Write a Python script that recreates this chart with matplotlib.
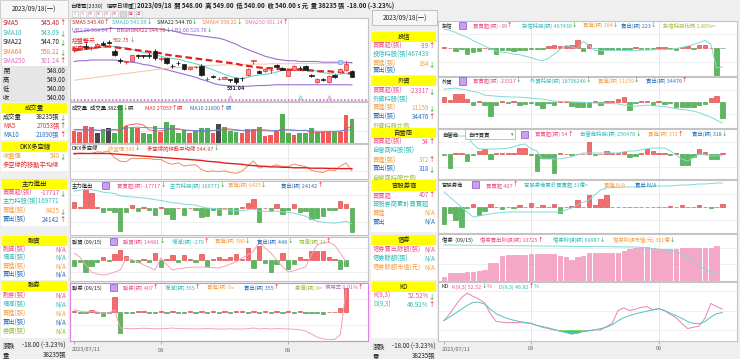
import numpy as np
import matplotlib.pyplot as plt
from matplotlib.patches import Rectangle

plt.rcParams['font.family'] = ['Noto Sans CJK TC', 'DejaVu Sans']
nan = np.nan

# ---- data (49 trading days 2023/07/11 .. 2023/09/18) ----
tick_idx = [0, 15, 37]
tick_lbl = ['2023/07/11', '08', '09']

opens = [576,578,582,579,581,585,587,575,562.5,560, 562,570,569,570,575,564,565,555.5,559,557.5,
         551,553,555,537,541,537,538,537,539,539.5, 543,562,548,548,549,556,552,542,550,552.5,
         555.5,543,533,538,533,543,547,549,548]
highs = [580,583,585,582,586,588,590,577,565,561, 570,571,569.5,572,577,567,566,558,562,558,
         554,555,557,540,543,540,541,537.5,540,540, 552,563.5,549,552,552,558,553,551,556,555,
         556,544,539,539,543,544,552,562,549]
lows = [573,576,578,576,579,582,584,568,559,558, 561,566,565,566,563,562,557,552,556,550,
        550,552,542,535,539,536,537,534,531,535, 542,557,545,547,546,553,549,541,549,550,
        549,540,532,535,532,539,546,548,540]
closes = [578,581,580,580,584,583,586,570,562,561, 569.5,568,568.5,568,566,566,559,555,558.5,551,
          553,554,543,538,540,538,540,536,534,539, 551,563,546,551,550,554,550,550,555.5,552,
          550,541,538,536,542,540,551,558,540]
bb_upper = [600,601,602,603,603,604,605,605,605,605, 605,605,605,605,605,604,603,602,600,598,
            597,596,595,594,593,592,590,587,584,580, 577,574,571,568,566,564,563,562,562,561,
            561,561,561,560,560,560,560,560,559.64]
bb_mid = [576,577,578,579,580,581,581,580,579,578, 577,576,575,574,573,572,570,569,568,567,
          566,565,564,563,562,561,560,559,558,556, 555,554,553,552,552,551,551,550,550,550,
          549,549,548,548,548,547,547,546,544.7]
bb_lower = [561,562,562,563,563,563,563,563,562,561, 560,559,557,556,554,552,550,548,546,544,
            542,540,537,535,532,530,529,528.5,528,528, 528,528.5,529,529,529.5,530,530,530,530,530,
            530,530,530,530,530,530,530,530,529.76]
sma10 = [574,576,577,578,579,580,581,581,580,579, 577,575,573,572,570,568,566,565,564,562,
         560,558,556,553,550,547,544,541,539,538, 540,542,543,544,545,547,549,550,550,551,
         551,550,548,546,545,544,544,545,543.09]
sma64 = [536,537,538,539,540,541,542,543,544,545, 546,547,548,549,550,551,552,552.5,553,553.5,
         554,554.5,555,555.5,556,556,556.5,556.5,557,557, 557,557.5,557.5,557.5,558,558,558,558,558,558.5,
         558.5,558.5,558.5,558.5,558.5,558.5,558.5,558.3,558.22]
sig_idx = [27, 39, 44]
sig_col = ['#f090b8', '#60c8e0', '#f090b8']

volume = [19300,17300,27200,25200,15300,22500,24700,16800,61300,27800, 23600,24700,15700,14200,27800,18400,34100,28800,15700,20900,
          15700,19300,24700,24700,16800,29900,26300,19300,18400,15700, 22500,22500,26300,11500,12100,19300,47200,15700,12100,15700,
          15700,23600,17300,17300,17300,18400,18400,44500,38235]
vol_col = ['r','r','r','r','k','g','k','g','g','r', 'g','r','g','g','g','r','g','g','g','g',
           'r','g','g','g','r','k','g','g','g','r', 'r','r','g','r','r','r','g','g','r','g',
           'g','g','g','r','r','g','r','r','g']
vol_ma5 = [22000,21500,21000,21500,20800,19500,21000,21500,20000,28000, 30000,31000,29000,21000,19700,19500,21000,23000,23000,21000,
           20000,20000,18500,19000,19800,21000,23000,22500,21500,20000, 18700,19700,21000,20000,19300,19300,23000,21000,21000,20000,
           20800,16500,16500,17300,18000,18000,18000,23000,27053]
vol_ma10 = [21000,21000,20800,20800,20500,20500,20500,21000,22000,24000, 25000,25500,25000,24500,24000,23500,23500,22500,22000,21000,
            20500,20000,20000,20500,20500,20500,21500,21000,20500,20500, 20500,21000,21500,21000,20500,20000,20500,21000,20500,20000,
            20000,19500,19000,19000,19000,19000,19500,20500,21890]
dkx_ma = [580,580,580,580,580,580,580,579,578,577, 576,575,574,573,572,571,570,569,568,567,
          566,565,564,562,561,560,558,557,556,555, 553,552,551,550,549,549,548,548,547,547,
          547,546,546,546,545.5,545.5,545,545,544.97]
zl_net = [5100,800,13700,11400,1100,-3000,-800,-3000,-16500,-2500, 2500,-2100,1300,-800,-4600,800,-3800,-7600,500,-4600,
          400,-800,-6300,-5500,-1500,-5100,400,-3800,-3800,1300, 3800,7100,-10100,500,-800,3000,-4300,-800,3000,-2500,
          -2100,-8100,-7100,-5500,-1500,-1500,5500,3000,-17717]
zl_hold = [192200,192800,193500,193300,192500,191500,191000,190600,189000,188500, 188200,187800,187500,187000,186300,185800,185000,184200,184000,183200,
           183000,182600,181400,180600,180300,179700,179600,179100,178700,178800, 179300,179800,178500,178400,178200,178500,177800,177600,177000,176000,
           175000,173000,171500,170800,170500,170200,170800,171500,169771]
rz_chg = [-285,-100,-585,-285,-100,165,-50,300,500,185, -115,-115,35,-85,335,-365,35,250,-115,250,
          35,-115,300,-315,35,135,35,135,285,35, 585,-415,715,-150,-615,-200,350,-450,-200,135,
          35,465,465,465,135,35,-450,-279, nan]
rz_bal = [14751,14631,14400,14181,14120,14091,14120,14180,14241,14601, 14550,14481,14400,14320,14241,14601,14400,14241,14280,14300,
          14320,14330,14331,14320,14310,14301,14350,14420,14481,14600, 14691,14800,15081,14901,14751,14550,14350,14181,14220,14280,
          14331,14700,14991,15060,15081,14991,14750,14481, nan]
rq_chg = [22,-8,-10,26,-15,-60,-10,225,-310,-15, -8,8,8,-8,-8,8,-8,15,-8,-8,
          8,-8,8,-8,8,-8,8,-8,8,8, -8,20,-22,10,-10,10,-8,8,-8,8,
          -8,-15,-15,-35,5,0,55,355, nan]
rq_bal = [250,240,232,240,232,224,224,250,104,100, 98,100,102,100,98,98,100,104,100,98,
          98,96,98,100,98,96,96,98,96,96, 98,104,96,100,96,100,98,96,94,90,
          80,56,32,16,12,12,52,407, nan]
tx_net = [70,50,-330,-100,-570,-430,-270,50,-50,-570, -200,-200,-250,-200,-200,-100,-50,-50,200,270,
          200,200,270,830,-270,400,-30,-600,-130,-170, -170,-170,-130,130,-100,-100,-100,100,100,-100,
          -170,100,200,-100,330,330,50,-2670,-39]
tx_hold = [472989,472839,472500,472100,471800,471300,470900,470500,470100,469800, 469600,469500,469300,469240,469000,468800,468500,468340,468700,469300,
           470000,470590,470400,470100,471190,470600,469840,469840,469840,469840, 469840,469840,469840,469840,469900,469900,469950,469990,470000,469990,
           470100,470300,470500,470740,471000,471340,470740,467289,467439]
wz_net = [6850,3350,11660,11660,4370,-3930,730,-4810,-20840,-3930, 1890,-1890,1020,-3930,-3350,-730,-4810,-8740,-1460,-4810,
          730,730,-6270,-7720,-7720,-7720,730,-4810,730,1460, 3930,7720,-11220,-730,730,1020,-4810,1020,-2910,-1890,
          -7720,-7720,-7720,-7720,-3930,-2190,5830,9180,-23317]
wz_hold = [18774000,18775000,18776000,18774000,18772000,18769000,18767000,18762000,18761000,18760000,
           18759000,18758500,18758000,18758000,18757000,18756000,18755000,18754000,18752000,18750000,
           18749500,18749000,18748500,18748000,18747500,18747000,18746000,18746000,18745500,18745000,
           18744500,18742000,18741000,18740000,18741000,18742000,18741000,18740000,18739000,18737000,
           18735000,18733000,18732000,18730000,18727000,18722000,18718000,18712000,18706246]
zy_net = [-40,-560,52,52,-292,-40,108,188,-212,40, 40,40,40,228,228,-20,-692,-160,-160,-760,
          40,20,-40,20,20,480,-40,20,108,40, 40,80,-132,-60,40,188,120,40,40,-40,
          28,-428,-428,-132,188,80,-200,-200,54]
zy_hold = [258478,258478,258478,258478,258478,257678,257178,257178,257178,257178, 257200,257278,257400,257600,257678,257200,256978,256178,256178,256178,
           256200,256278,256400,256600,256778,256778,256778,256778,256778,256778, 256778,256900,256978,256978,257100,257200,257278,257278,257278,256978,
           256600,256178,255978,256300,256678,256600,256500,256478,256478]
gg_net = [-2550,-900,-1905,-3045,-150,405,-1155,-555,450,75, -345,75,-150,255,75,600,75,345,75,405,
          -900,75,150,1050,75,1800,300,1155,1845,75, 75,75,75,75,75,75,75,75,75,105,
          75,255,75,75,255,75,-105,75,407]
gg_cum = [22,17,12,7,2,-3,-2,-1,0,1, 1.5,2,2,2,2,2,2,2,2,2, 2,4,6,9,12,14,19,24,26,26.5,
          26.5,27,27,27,27,27.5,27.5,28,28,28, 28.5,29,29,29.5,30,30,30.5,31,31]
jq_sell = [845,2097,2097,2097,2410,2598,2911,3130,5227,5415, 7512,7825,7825,7825,7825,8138,8138,8138,8138,8044,
           7512,7105,6260,7105,7512,8357,8357,8357,8357,8357, 8545,9171,9609,10110,10235,10235,9922,9609,9609,9703,
           9703,9922,9922,9922,9922,9922,9922,10725, nan]
jq_bal = [92400,92400,92300,92300,92200,92200,92100,92100,92000,92000, 91900,91900,91800,91800,91700,91700,91600,91600,91500,91500,
          91400,91400,91300,91300,91200,91200,91100,91100,91000,91000, 90900,90900,90800,90800,90500,90000,89500,89000,88400,88000,
          87000,85000,82800,80000,76000,73000,71000,69987, nan]
k_vals = [34.3,45,58,70,76.9,72,68,62,45,33, 32,31,31.5,31,31,30,27,24,22,20,
          18.5,16,13.7,15,18,19,20,20,25,30, 50,54,50,52,55,56,51,53,50,44,
          39,30,22,24,26,38,61,56,52.52]
d_vals = [34.3,40,46,52,58,62.7,63,60,52,45, 41,37.4,35,33,31.5,30,27,25,23,20.5,
          18,16,15.5,16,17.5,18.5,20,22,24,28, 34,39,42,45,47,49,51,53,50,46,
          42,38,33,30,29.5,33,40,45,46.92]

# ---- figure helpers ----
W, H = 740, 359
fig = plt.figure(figsize=(W / 100, H / 100), dpi=100, facecolor='#efefef')
R = fig.canvas.get_renderer()

UP, DN, EQ = '#e00000', '#009a00', '#909090'
ARW = {'↑': UP, '↓': DN, '=': EQ}
DARK = '#202020'
PINK, CYAN, ORNG, BLUE, OLIVE, PURP = '#f0508a', '#30b8b8', '#f5a040', '#2a6fc0', '#98bc38', '#9060c8'
RED_F, RED_E, GRN_F, GRN_E = '#f46c6c', '#d83434', '#5cb85c', '#3a963a'
HS = 3.9      # chart header font size
IS = 4.5      # info column font size
idx = np.arange(len(closes))
LX = (-0.69, 50.78)
RX = (-1.03, 50.52)


def fx(x):
    return x / W


def fy(y):
    return 1 - y / H


def box(x0, y0, x1, y1, fc, ec='none', z=0.5, lw=0.6):
    fig.add_artist(Rectangle((fx(x0), fy(y1)), (x1 - x0) / W, (y1 - y0) / H,
                             transform=fig.transFigure, facecolor=fc, edgecolor=ec, lw=lw, zorder=z))


def txt(x, y, s, c=DARK, size=HS, **kw):
    kw.setdefault('va', 'center')
    return fig.text(fx(x), fy(y), s, color=c, fontsize=size, **kw)


def segs(x, y, parts, size=HS, **kw):
    for s, c in parts:
        t = txt(x, y, s, c, size, **kw)
        x += t.get_window_extent(renderer=R).width
    return x


def hdr(x, y, label, c, arrow):
    segs(x, y, [(label, c), (arrow, ARW[arrow])])


def row(xl, xr, y, label, c, value='', arrow=None, size=IS, z=3):
    txt(xl, y, label, c, size, zorder=z)
    if arrow:
        t = txt(xr, y, arrow, ARW[arrow], size, ha='right', zorder=z)
        xr -= t.get_window_extent(renderer=R).width
    if value:
        txt(xr, y, value, c, size, ha='right', zorder=z)


def band(x0, x1, y0, y1, label):
    box(x0, y0, x1, y1, '#ffff00', z=2)
    txt((x0 + x1) / 2, (y0 + y1) / 2, label, DARK, 4.6, ha='center', zorder=4)


def icon(x, y):
    box(x, y - 3.5, x + 7, y + 3.5, '#c9a0f0', ec='#8a50c8', z=4, lw=0.5)


def panel(x0, y0, x1, y1, xl, ylim, edge='#c4c4c4', hl=()):
    ax = fig.add_axes([fx(x0), fy(y1), (x1 - x0) / W, (y1 - y0) / H])
    ax.set_xlim(*xl)
    ax.set_ylim(*ylim)
    ax.set_xticks([])
    ax.set_yticks([])
    for s in ax.spines.values():
        s.set_color(edge)
        s.set_linewidth(0.8)
    for xv in tick_idx[1:]:
        ax.axvline(xv, color='#e4e4e4', lw=0.6, zorder=0)
    for yv in hl:
        ax.axhline(yv, color='#ececec', lw=0.6, zorder=0)
    return ax


def overlay(ax, ylim):
    t = ax.twinx()
    t.set_ylim(*ylim)
    t.axis('off')
    return t


def netbars(ax, vals):
    v = np.array(vals, float)
    m = np.isfinite(v)
    v, x = v[m], idx[m]
    up = v >= 0
    ax.bar(x, v, width=0.74, color=np.where(up, RED_F, GRN_F),
           edgecolor=np.where(up, RED_E, GRN_E), lw=0.4, zorder=2)


def line(ax, vals, c, lw=0.7, **kw):
    ax.plot(idx, vals, color=c, lw=lw, **kw)


def xlabels(ax, x_first, step, y):
    ax.set_xticks(tick_idx)
    ax.set_xticklabels([])
    ax.tick_params(axis='x', length=2.5, color='#a0a0a0', width=0.6)
    for i, lab in zip(tick_idx, tick_lbl):
        xp = x_first + i * step
        txt(xp - 2 if i == 0 else xp, y, lab, '#606060', 4.0, ha='left' if i == 0 else 'center')


# ---- top header ----
box(0, 0, 68, 18, '#f7f7f7', ec='#c8c8c8')
txt(34, 9, '2023/09/18(一)', DARK, 4.6, ha='center')
txt(70, 5.5, '台積電(2330)', DARK, 4.0)
txt(107, 5.5, '還原日線圖', DARK, 4.0)
box(131, 3, 135, 8, 'white', ec='#909090')
txt(137, 5.5, '2023/09/18  開 548.00  高 549.00  低 540.00  收 540.00 s 元  量 38235 張  -18.00 (-3.23%)',
    DARK, 4.5, fontweight='bold')
for k, b in enumerate(['1', '5', '10', '15', '30', '60', '', '週', '月']):
    box(72 + 8 * k, 11, 78 + 8 * k, 17, '#ffffff' if b else '#d8d8d8', ec='#c0c0c0', lw=0.4)
    txt(75 + 8 * k, 14, b, '#e04060', 2.6, ha='center')

# ---- left info column ----
box(1, 18, 68, 66, 'white', ec='#d6d6d6')
for y, lab, c, v, a in [(23, 'SMA5', '#c02020', '545.40', '↑'), (33, 'SMA10', CYAN, '543.09', '↓'),
                        (42, 'SMA22', DARK, '544.70', '↓'), (52, 'SMA64', '#f08040', '558.22', '↓'),
                        (61, 'SMA250', '#e070c0', '501.14', '↑')]:
    row(3, 66, y, lab, c, v, a)
box(1, 66, 68, 102, '#e6e6e6')
for y, lab, v in [(71, '開', '548.00'), (80, '高', '549.00'), (89, '低', '540.00'), (98, '收', '540.00')]:
    row(3, 66, y, lab, DARK, v)
band(2, 67, 103, 113, '成交量')
box(1, 113, 68, 140, 'white')
row(3, 66, 117, '成交量', DARK, '38235張', '↓')
row(3, 66, 126, 'MA5', '#e03030', '27053張', '↑')
row(3, 66, 135, 'MA10', BLUE, '21890張', '↑')
band(2, 67, 142, 152, 'DKX多空線')
box(1, 152, 68, 171, 'white')
row(3, 66, 156, '收盤價', ORNG, '540', '↓')
txt(3, 165, '多空線的移動平均線', '#e03030', IS)
band(2, 67, 179, 189, '主力進出')
box(1, 189, 68, 226, 'white')
row(3, 66, 193, '買賣超(張)', PINK, '-17717', '↓')
txt(3, 202, '主力持股(張)169771', CYAN, IS)
row(3, 66, 211, '買進(張)', ORNG, '6425', '↓')
row(3, 66, 220, '賣出(張)', BLUE, '24142', '↑')
band(2, 67, 236, 246, '融資')
box(1, 246, 68, 280, 'white')
for y, lab, c in [(250, '融資(張)', PINK), (258, '增減(張)', CYAN), (267, '買進(張)', ORNG), (275, '賣出(張)', BLUE)]:
    row(3, 66, y, lab, c, 'N/A')
band(2, 67, 281, 291, '融券')
box(1, 291, 68, 338, 'white')
for y, lab, c in [(296, '融券(張)', PINK), (305, '增減(張)', CYAN), (314, '買進(張)', ORNG),
                  (323, '賣出(張)', BLUE), (332, '券償(張)', OLIVE)]:
    row(3, 66, y, lab, c, 'N/A')
row(3, 66, 346, '漲跌', DARK, '-18.00 (-3.23%)')
row(3, 66, 355, '量', DARK, '38235張')

# ---- right info column ----
box(372, 10, 437, 25, '#f6f6f6', ec='#b8b8b8')
txt(404.5, 18, '2023/09/18(一)', DARK, 4.6, ha='center')
band(372, 436, 32, 42, '投信')
box(371, 42, 437, 75, 'white')
row(373, 435, 46, '買賣超(張)', PINK, '-39', '↑')
txt(373, 55, '投信持股(張)467439', CYAN, IS)
row(373, 435, 64, '買進(張)', ORNG, '184', '↓')
row(373, 435, 71, '賣出(張)', BLUE)
band(372, 436, 76, 86, '外資')
box(371, 86, 437, 128, 'white')
row(373, 435, 91, '買賣超(張)', PINK, '-23317', '↓')
row(373, 435, 99.5, '外資持股(張)', CYAN)
row(373, 435, 108, '買進(張)', ORNG, '11159', '↓')
row(373, 435, 117, '賣出(張)', BLUE, '34476', '↑')
row(373, 435, 126, '外資持股比例', OLIVE, z=1)
band(372, 436, 128, 138, '自營商')
box(371, 138, 437, 179, 'white')
row(373, 435, 142, '買賣超(張)', PINK, '54', '↑')
row(373, 435, 151, '自營商持股(張)', CYAN)
row(373, 435, 160.5, '買進(張)', ORNG, '372', '↑')
row(373, 435, 169, '賣出(張)', BLUE, '318', '↓')
row(373, 435, 177.5, '自營商持股比例', OLIVE, z=1)
band(372, 436, 180, 191, '官股券商')
box(371, 191, 437, 232, 'white')
row(373, 435, 195, '買賣超', PINK, '407', '↑')
row(373, 435, 204, '官股券商累計買賣超', CYAN)
row(373, 435, 213, '買進', ORNG, 'N/A')
row(373, 435, 222, '賣出', BLUE, 'N/A')
band(372, 436, 235, 245, '借券')
box(371, 245, 437, 280, 'white')
row(373, 435, 250, '借券賣出餘額(張)', PINK, 'N/A')
row(373, 435, 259, '借券餘額(張)', CYAN, 'N/A')
row(373, 435, 268, '借券餘額市值(元)', ORNG, 'N/A')
band(372, 436, 282, 292, 'KD')
box(371, 292, 437, 338, 'white')
row(373, 435, 296, 'K(9,3)', PINK, '52.52%', '↓')
row(373, 435, 305, 'D(9,3)', CYAN, '46.92%', '↑')
row(373, 435, 347, '漲跌', DARK, '-18.00 (-3.23%)')
row(373, 435, 356, '量', DARK, '38235張')

# ---- candle panel ----
axc = panel(70, 18, 368, 101, LX, (508.3, 619))
line(axc, bb_upper, '#9a70d0', 0.8)
line(axc, bb_lower, '#9a70d0', 0.8)
line(axc, sma64, '#f7c4a4', 0.7)
line(axc, sma10, '#60cccc', 0.7)
line(axc, bb_mid, '#e02020', 1.6, ls=(0, (3, 1.6)))
for i in idx:
    o, h, l, c = opens[i], highs[i], lows[i], closes[i]
    upc = c > o
    fc, ec = ('#ff8a8a', '#e03030') if upc else ('#1c1c1c', '#1c1c1c')
    axc.vlines(i, l, h, color=ec, lw=0.7, zorder=3)
    axc.bar(i, max(abs(c - o), 0.5), bottom=min(o, c), width=0.74, color=fc, edgecolor=ec, lw=0.5, zorder=4)
axc.axhline(510.3, color='#d050d0', lw=1.1, ls=(0, (1, 1.3)))
for i, c in zip(sig_idx, sig_col):
    axc.plot(i, 513.5, '^', ms=2.6, mfc='none', mec=c, mew=0.6)
axc.plot(46, 560.5, 's', ms=3.2, mfc='#a8cff5', mec='#6fa0d8', mew=0.4, zorder=5)
low_i = int(np.argmin(lows))
axc.text(low_i, lows[low_i] - 3, f'{lows[low_i] + 0.04:.2f}', fontsize=4.0, ha='center', va='top',
         color=DARK, fontweight='bold')
hdr(72, 22.5, 'SMA5 545.40', '#c02020', '↑')
hdr(112, 22.5, 'SMA10 543.09', CYAN, '↓')
hdr(157, 22.5, 'SMA22 544.70', DARK, '↓')
hdr(202, 22.5, 'SMA64 558.22', '#f08040', '↓')
hdr(245, 22.5, 'SMA250 501.14', '#e070c0', '↑')
hdr(72, 31, 'UB2.00 559.64', PURP, '↑')
hdr(117, 31, 'BBandMA22 544.70', '#e03030', '↓')
hdr(172, 31, 'LB2.00 529.76', PURP, '↓')
txt(72, 40.5, '控盤警示', '#e03030', 4.3)
hdr(113, 40.5, '582.75', '#d03030', '↓')
txt(72, 49.5, '警示', '#e03030', 4.3)

# ---- volume ----
axv = panel(70, 102, 368, 143, LX, (0, 66000), hl=(20000, 40000))
cmap = {'r': '#f25a5a', 'g': '#52b052', 'k': '#484848'}
axv.bar(idx, volume, width=0.82, color=[cmap[c] for c in vol_col], lw=0)
line(axv, vol_ma5, '#ee5050', 0.6)
line(axv, vol_ma10, '#5a88d8', 0.6)
txt(72, 108, '成交量', DARK)
segs(90, 108, [('成交量 38235', DARK), ('↓', DN), ('張', DARK)])
segs(145, 108, [('MA5 27053', '#e03030'), ('↑', UP), ('張', '#e03030')])
segs(190, 108, [('MA10 21890', BLUE), ('↑', UP), ('張', BLUE)])

# ---- DKX ----
axd = panel(70, 144, 368, 179, LX, (521, 602), hl=(540, 570))
line(axd, closes, '#f28c5a', 0.7)
line(axd, dkx_ma, '#e02020', 1.0)
txt(72, 148.5, 'DKX多空線', DARK)
hdr(108, 148.5, '收盤價 540', ORNG, '↓')
hdr(147, 148.5, '多空線的移動平均線 544.97', '#e03030', '↓')

# ---- 主力進出 ----
axz = panel(70, 181, 368, 235, LX, (-19800, 20500), hl=(-10000, 10000))
netbars(axz, zl_net)
line(overlay(axz, (162071, 199171)), zl_hold, '#80d8d8', 0.7)
txt(72, 185.5, '主力進出', DARK)
icon(102, 185.5)
hdr(117, 185.5, '買賣超(張) -17717', PINK, '↓')
hdr(170, 185.5, '主力持股(張) 169771', CYAN, '↓')
hdr(228, 185.5, '買進(張) 6425', ORNG, '↓')
hdr(281, 185.5, '賣出(張) 24142', BLUE, '↑')

# ---- 融資 ----
axr = panel(70, 237, 368, 281, LX, (-1050, 1150), hl=(-600, 600))
netbars(axr, rz_chg)
line(overlay(axr, (13911, 15231)), rz_bal, '#f5a0c0', 0.7)
txt(72, 241.5, '融資 (09/15)', DARK)
icon(110, 241.5)
hdr(123, 241.5, '融資(張) 14481', PINK, '↓')
hdr(172, 241.5, '增減(張) -279', CYAN, '↑')
hdr(215, 241.5, '買進(張) 580', ORNG, '↓')
hdr(257, 241.5, '賣出(張) 448', BLUE, '↓')
hdr(299, 241.5, '現償(張) 11', OLIVE, '↑')

# ---- 融券 ----
axq = panel(70, 283, 368, 341, LX, (-435, 435), edge='#e080e0', hl=(-200, 200))
netbars(axq, rq_chg)
line(overlay(axq, (0, 464)), rq_bal, '#f5a0c0', 0.7)
txt(72, 287.5, '融券 (09/15)', DARK)
icon(110, 287.5)
hdr(123, 287.5, '融券(張) 407', PINK, '↑')
hdr(165, 287.5, '增減(張) 355', CYAN, '↑')
hdr(207, 287.5, '買進(張) 0', ORNG, '=')
hdr(244, 287.5, '賣出(張) 355', BLUE, '↑')
hdr(295, 287.5, '券償(張) 0', OLIVE, '=')
hdr(325, 287.5, '使用率 0.01%', '#b070c0', '↑')
xlabels(axq, 74, 5.79, 350)

# ---- right: 投信 ----
axt = panel(438, 21, 737, 76, RX, (-2800, 2700), hl=(-1400, 1400))
netbars(axt, tx_net)
line(overlay(axt, (466089, 474189)), tx_hold, '#80d8d8', 0.7)
txt(442, 25.5, '投信', DARK)
icon(459, 25.5)
hdr(473, 25.5, '買賣超(張) -39', PINK, '↑')
hdr(522, 25.5, '投信持股(張) 467439', CYAN, '↓')
hdr(583, 25.5, '買進(張) 184', ORNG, '↓')
hdr(621, 25.5, '賣出(張) 223', BLUE, '↓')
hdr(663, 25.5, '投信持股比例 1.80%', OLIVE, '=')

# ---- 外資 ----
axw = panel(438, 77, 737, 128, RX, (-37882, 36425), hl=(-18000, 18000))
netbars(axw, wz_net)
line(overlay(axw, (18696246, 18798246)), wz_hold, '#80d8d8', 0.7)
txt(442, 81, '外資', DARK)
icon(459, 81)
hdr(473, 81, '買賣超(張) -23317', PINK, '↓')
hdr(530, 81, '外資持股(張) 18706246', CYAN, '↓')
hdr(598, 81, '買進(張) 11159', ORNG, '↓')
hdr(646, 81, '賣出(張) 34476', BLUE, '↑')

# ---- 自營商 ----
axy = panel(438, 129, 737, 179, RX, (-1000, 1000), hl=(-500, 500))
netbars(axy, zy_net)
line(overlay(axy, (254178, 259178)), zy_hold, '#80d8d8', 0.7)
txt(442, 134, '自營商', DARK)
box(465, 129.5, 515, 139, 'white', ec='#a8a8a8', z=4, lw=0.5)
txt(468, 134.3, '自行買賣', DARK, zorder=5)
txt(513, 134.3, '▾', '#707070', 3.5, ha='right', zorder=5)
icon(521, 134)
hdr(535, 134, '買賣超(張) 54', PINK, '↑')
hdr(580, 134, '自營商持股(張) 256478', CYAN, '↓')
hdr(648, 134, '買進(張) 372', ORNG, '↑')
hdr(692, 134, '賣出(張) 318', BLUE, '↓')

# ---- 官股券商 ----
axg = panel(438, 180, 737, 233, RX, (-3900, 4050), hl=(-2000, 2000))
netbars(axg, gg_net)
line(overlay(axg, (-19, 34)), gg_cum, '#80d8d8', 0.7)
txt(442, 185, '官股券商', DARK)
icon(472, 185)
hdr(486, 185, '買賣超 407', PINK, '↑')
hdr(524, 185, '官股券商累計買賣超 31億', CYAN, '=')
txt(604, 185, '買進 N/A', ORNG)
txt(635, 185, '賣出 N/A', BLUE)

# ---- 借券 ----
axj = panel(438, 234, 737, 281, RX, (-313, 14398), hl=(5000, 10000))
m = np.isfinite(jq_sell)
axj.bar(idx[m], np.array(jq_sell)[m], width=0.74, color='#f6a6c6', edgecolor='#ee88b0', lw=0.4)
line(overlay(axj, (63587, 101187)), jq_bal, '#80d8d8', 0.7)
txt(442, 240, '借券  (09/15)', DARK)
hdr(480, 240, '借券賣出餘額(張) 10725', PINK, '↑')
hdr(553, 240, '借券餘額(張) 69987', CYAN, '↓')
hdr(613, 240, '借券餘額市值(元) 391億', ORNG, '↓')

# ---- KD ----
axk = panel(438, 282, 737, 341, RX, (2.7, 94.3), hl=(20, 50, 80))
kk = np.array(k_vals)
axk.fill_between(idx, kk, 20, where=kk < 20, interpolate=True, color='#22dd22', lw=0)
line(axk, k_vals, '#f080a8', 0.7)
line(axk, d_vals, '#50c4c4', 0.7)
txt(442, 287, 'KD', DARK)
segs(452, 287, [('K(9,3) 52.52', PINK), ('↓', DN), ('%', PINK)])
segs(499, 287, [('D(9,3) 46.92', CYAN), ('↑', UP), ('%', CYAN)])
xlabels(axk, 444, 5.8, 349)

fig.savefig('out.png', dpi=100, facecolor=fig.get_facecolor())
